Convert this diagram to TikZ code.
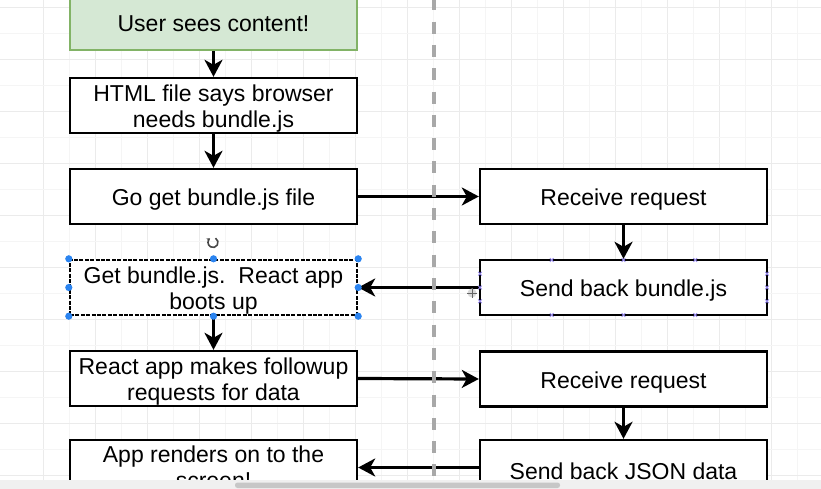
\documentclass[tikz,border=0pt]{standalone}
\usepackage{fontspec}
\setmainfont{Liberation Sans}
\usetikzlibrary{arrows.meta}
\definecolor{gfill}{HTML}{D5E8D4}
\definecolor{gdraw}{HTML}{82B366}
\definecolor{dashgray}{HTML}{A8A8A8}
\definecolor{handleblue}{HTML}{2B84F0}
\definecolor{cptcol}{HTML}{9A8CF0}
\definecolor{gridmaj}{HTML}{EBEBEB}
\definecolor{gridmin}{HTML}{F5F5F5}
\begin{document}
\begin{tikzpicture}[x=1pt,y=-1pt,
  box/.style={draw=black, line width=2.4pt, fill=white, minimum width=287pt,
    minimum height=55pt, inner sep=0pt},
  greenbox/.style={box, draw=gdraw, fill=gfill},
  selbox/.style={box, dash pattern=on 4pt off 1.4pt},
  lbl/.style={align=center, inner sep=0pt, yshift=-3.3pt,
    font=\fontsize{23}{26}\selectfont},
  conn/.style={line width=3.2pt, -{Stealth[length=17pt,width=18pt,inset=5pt]}},
  hdl/.style={fill=handleblue},
  cpt/.style={draw=cptcol, line width=0.9pt}
]
\useasboundingbox (0,0) rectangle (821,489);
\fill[white] (0,0) rectangle (821,489);
% grid
\foreach \k in {0,...,15} {
  \draw[gridmin, line width=0.6pt] ({69+52*\k},0) -- ({69+52*\k},489);
  \draw[gridmaj, line width=0.8pt] ({43+52*\k},0) -- ({43+52*\k},489);
}
\foreach \k in {0,...,9} {
  \draw[gridmin, line width=0.6pt] (0,{33+52*\k}) -- (821,{33+52*\k});
  \draw[gridmaj, line width=0.8pt] (0,{7+52*\k}) -- (821,{7+52*\k});
}
\begin{scope}
\clip (0,0) rectangle (821,480);
% left column
\node[greenbox, minimum height=56pt, label={[lbl, yshift=1.5pt]center:{User sees content!}}] (seen) at (213.5,22) {};
\node[box, label={[lbl]center:{HTML file says browser\\needs bundle.js}}] (html) at (213.5,105.5) {};
\node[box, label={[lbl]center:{Go get bundle.js file}}] (goget) at (213.5,196.5) {};
\node[selbox, label={[lbl]center:{Get bundle.js.\ \ React app\\boots up}}] (getb) at (213.5,287.5) {};
\node[box, label={[lbl]center:{React app makes followup\\requests for data}}] (react) at (213.5,378.5) {};
\node[box, label={[lbl, yshift=3.3pt]center:{App renders on to the\\screen!}}] (render) at (213.5,467.5) {};
% right column
\node[box, label={[lbl]center:{Receive request}}] (recv1) at (623.5,196.5) {};
\node[box, label={[lbl]center:{Send back bundle.js}}] (sendb) at (623.5,287.5) {};
\node[box, label={[lbl]center:{Receive request}}] (recv2) at (623.5,379) {};
\node[box, label={[lbl]center:{Send back JSON data}}] (json) at (623.5,467.5) {};
% connectors
\draw[conn] (seen) -- (html);
\draw[conn] (html) -- (goget);
\draw[conn] (getb) -- (react);
\draw[conn] (recv1) -- (sendb);
\draw[conn] (recv2) -- (json);
\draw[conn] (goget.east) -- (recv1.west);
\draw[conn] (sendb.west) -- (getb.east);
\draw[conn] (react.east) -- (recv2.west);
\draw[conn] (json.west) -- (render.east);
% dashed separator
\draw[dashgray, line width=4pt, dash pattern=on 12pt off 11.3pt] (434,-1.6) -- (434,489);
% selection handles
\foreach \p in {north west, north, north east, west, east, south west, south, south east}
  \fill[hdl] (getb.\p) circle (3.6pt);
% connection points on sendb
\foreach \xx in {551.75,623.5,695.25} {
  \foreach \yy in {260,315} {
    \draw[cpt] (\xx-1.8,\yy-1.8) -- (\xx+1.8,\yy+1.8) (\xx-1.8,\yy+1.8) -- (\xx+1.8,\yy-1.8);
  }
}
\foreach \yy in {273.75,287.5,301.25} {
  \foreach \xx in {480,767} {
    \draw[cpt] (\xx-1.8,\yy-1.8) -- (\xx+1.8,\yy+1.8) (\xx-1.8,\yy+1.8) -- (\xx+1.8,\yy-1.8);
  }
}
% rotation icon
\coordinate (rot) at (213,242.5);
\draw[black!72, line width=1.6pt, -{Stealth[length=3.5pt,width=4.5pt]}]
  (rot) ++(-60:5) arc[start angle=-60, end angle=235, radius=5];
% move cursor
\fill[black!15] (472,293) circle (4.5pt);
\draw[black!60, line width=1pt] (467,293) -- (477,293) (472,288) -- (472,298);
\end{scope}
% bottom scroll strip
\fill[black!6] (0,480) rectangle (821,489);
\fill[black!22, rounded corners=2.5pt] (235,482.5) rectangle (560,488);
\end{tikzpicture}
\end{document}
